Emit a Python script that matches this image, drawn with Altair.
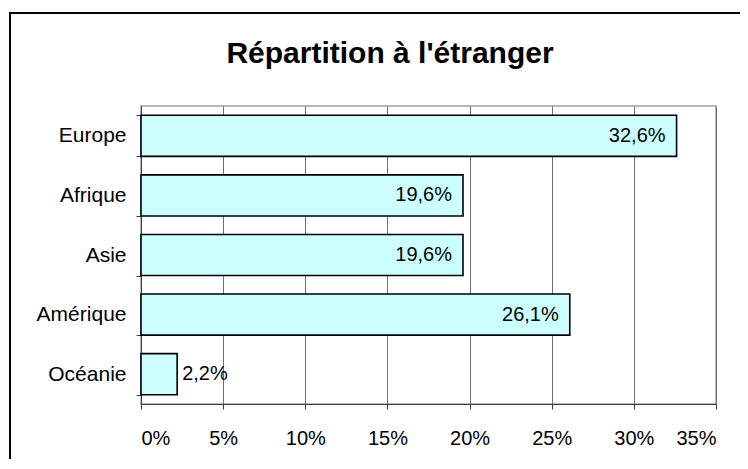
import altair as alt
import pandas as pd

categories = ["Europe", "Afrique", "Asie\u00a0", "Amérique", "Océanie"]
values = [32.6, 19.6, 19.6, 26.1, 2.2]
x_ticks = [0, 5, 10, 15, 20, 25, 30, 35]
title_text = "Répartition à l'étranger"

df = pd.DataFrame({"region": categories, "share": values})

FONT = "Liberation Sans"

y_enc = alt.Y(
    "region:N",
    sort=categories,
    title=None,
    scale=alt.Scale(paddingInner=0.31, paddingOuter=0.155),
    axis=alt.Axis(
        tickBand="extent",
        tickSize=5,
        tickColor="#404040",
        domainColor="#404040",
        labelFont=FONT,
        labelFontSize=21,
        labelColor="#000000",
        labelPadding=10,
        grid=False,
    ),
)
x_enc = alt.X(
    "share:Q",
    title=None,
    scale=alt.Scale(domain=[0, 35], nice=False, zero=True),
    axis=alt.Axis(
        values=x_ticks,
        labelExpr="datum.value + '%'",
        tickSize=5,
        tickColor="#404040",
        domainColor="#404040",
        grid=True,
        gridColor="#707070",
        gridWidth=1,
        labelFont=FONT,
        labelFontSize=20,
        labelColor="#000000",
        labelPadding=19,
    ),
)

base = alt.Chart(df)
one = base.transform_filter("datum.region == 'Europe'")

border_left = one.mark_rule(color="#000000", strokeWidth=2).encode(
    x=alt.value(-131), y=alt.value(-94), y2=alt.value(400)
)
border_top = one.mark_rule(color="#000000", strokeWidth=2).encode(
    x=alt.value(-132), x2=alt.value(700), y=alt.value(-93)
)

bars = base.mark_bar(color="#CCFFFF", stroke="#000000", strokeWidth=1.6).encode(
    x=x_enc, y=y_enc
)

label_expr = "replace(format(datum.share, '.1f'), '.', ',') + '%'"

labels_in = base.mark_text(
    align="right", baseline="middle", dx=-11, font=FONT, fontSize=20, color="#000000"
).transform_filter("datum.share >= 5").transform_calculate(lbl=label_expr).encode(
    x="share:Q", y=alt.Y("region:N", sort=categories), text="lbl:N"
)

labels_out = base.mark_text(
    align="left", baseline="middle", dx=5, font=FONT, fontSize=20, color="#000000"
).transform_filter("datum.share < 5").transform_calculate(lbl=label_expr).encode(
    x="share:Q", y=alt.Y("region:N", sort=categories), text="lbl:N"
)

title = one.mark_text(
    align="center", baseline="alphabetic", font=FONT, fontSize=30, fontWeight="bold",
    color="#000000", text=title_text
).encode(x=alt.value(249), y=alt.value(-43))

chart = alt.layer(border_left, border_top, bars, labels_in, labels_out, title).properties(
    width=575,
    height=298,
    autosize=alt.AutoSizeParams(type="none"),
    padding={"left": 133, "top": 98, "right": 24, "bottom": 55},
).configure_view(stroke="#a0a0a0", strokeWidth=1.5)

chart.save("out.html", embed_options={"renderer": "svg", "actions": False})
